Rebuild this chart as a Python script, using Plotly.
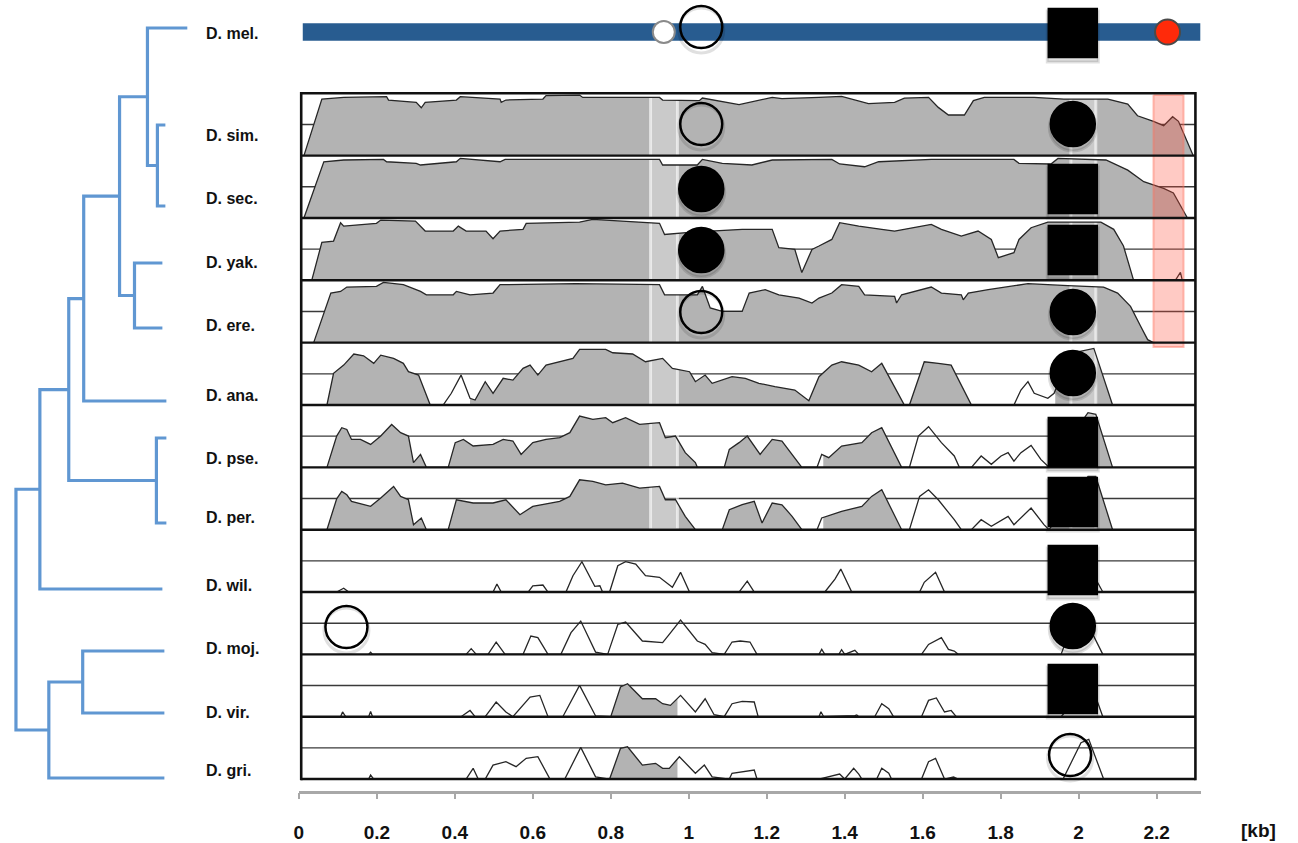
import numpy as np
import plotly.graph_objects as go

# ---------------------------------------------------------------- data
SPECIES = ["D. mel.", "D. sim.", "D. sec.", "D. yak.", "D. ere.", "D. ana.",
           "D. pse.", "D. per.", "D. wil.", "D. moj.", "D. vir.", "D. gri."]

# % identity to D. mel. along the region: (position [kb], % identity)
SIM = [(0.013, 50), (0.059, 95.4), (0.115, 96.7), (0.225, 97.3), (0.230, 94.6), (0.301, 92.7),
       (0.314, 88.4), (0.324, 92.7), (0.404, 94.6), (0.414, 97.3), (0.516, 95.4), (0.519, 92.7),
       (0.531, 94.6), (0.626, 95.4), (0.634, 98.1), (0.720, 98.6), (0.728, 96.7), (0.925, 96.7),
       (0.933, 94.6), (1.027, 94.1), (1.035, 96.2), (1.129, 90.9), (1.214, 96.7), (1.239, 95.7),
       (1.334, 96.7), (1.392, 97.5), (1.461, 91.7), (1.528, 92.7), (1.553, 96.2), (1.615, 96.7),
       (1.640, 88.7), (1.666, 82.6), (1.707, 82.6), (1.730, 94.1), (1.758, 96.7), (1.886, 96.7),
       (1.962, 95.4), (2.075, 95.4), (2.126, 91.4), (2.151, 82.0), (2.192, 77.5), (2.218, 74.0),
       (2.241, 81.2), (2.256, 77.5), (2.294, 50)]
SEC = [(0.013, 50), (0.064, 95.1), (0.115, 96.5), (0.217, 97.0), (0.225, 95.1), (0.301, 93.8),
       (0.312, 92.5), (0.404, 95.1), (0.414, 97.8), (0.516, 95.1), (0.529, 97.0), (0.925, 97.0),
       (0.933, 92.5), (1.022, 92.5), (1.035, 97.0), (1.086, 93.8), (1.162, 92.5), (1.214, 96.5),
       (1.367, 97.0), (1.387, 93.3), (1.451, 91.1), (1.487, 95.1), (1.622, 97.0), (1.834, 97.0),
       (1.847, 93.8), (1.929, 93.3), (1.947, 97.8), (2.070, 96.5), (2.126, 88.4), (2.167, 79.1),
       (2.218, 73.8), (2.243, 70.0), (2.279, 50)]
YAK = [(0.033, 50), (0.059, 80.4), (0.089, 81.5), (0.107, 96.2), (0.115, 93.5), (0.199, 95.7),
       (0.210, 98.3), (0.299, 97.5), (0.324, 89.5), (0.396, 89.5), (0.409, 93.5), (0.429, 89.5),
       (0.480, 89.5), (0.498, 83.4), (0.516, 89.5), (0.575, 90.9), (0.583, 95.7), (0.720, 96.7),
       (0.754, 98.9), (0.925, 95.7), (0.938, 86.8), (1.009, 88.7), (1.137, 90.9), (1.214, 90.9),
       (1.231, 76.2), (1.272, 74.8), (1.290, 56.2), (1.316, 74.8), (1.334, 77.5), (1.367, 82.8),
       (1.387, 96.2), (1.436, 93.5), (1.495, 90.9), (1.528, 89.5), (1.622, 94.9), (1.648, 90.9),
       (1.699, 85.5), (1.742, 89.5), (1.776, 82.8), (1.794, 68.2), (1.834, 72.2), (1.847, 82.8),
       (1.878, 92.2), (1.921, 96.7), (2.057, 96.7), (2.090, 90.9), (2.115, 77.5), (2.141, 50),
       (2.248, 50), (2.261, 56.4), (2.266, 50)]
ERE = [(0.038, 50), (0.082, 89.8), (0.107, 91.1), (0.123, 94.6), (0.199, 95.1), (0.217, 98.3),
       (0.268, 96.5), (0.312, 91.1), (0.327, 88.4), (0.396, 88.4), (0.404, 91.1), (0.439, 88.4),
       (0.498, 89.8), (0.516, 96.5), (0.710, 97.3), (0.925, 96.5), (0.938, 88.4), (1.022, 88.4),
       (1.035, 95.1), (1.055, 77.8), (1.086, 75.1), (1.137, 75.1), (1.155, 89.8), (1.196, 92.5),
       (1.231, 88.4), (1.283, 85.8), (1.316, 81.8), (1.334, 85.8), (1.367, 89.8), (1.392, 96.5),
       (1.436, 95.1), (1.451, 88.4), (1.528, 87.1), (1.533, 81.8), (1.546, 88.4), (1.622, 94.6),
       (1.648, 89.8), (1.699, 88.4), (1.704, 84.4), (1.717, 89.8), (1.768, 92.5), (1.819, 95.1),
       (1.870, 97.3), (1.972, 95.7), (2.064, 94.6), (2.100, 89.8), (2.133, 79.1), (2.159, 63.1),
       (2.177, 52.4), (2.192, 50)]
ANA = [(0.072, 50), (0.089, 75.4), (0.115, 82.0), (0.141, 90.9), (0.166, 89.5), (0.192, 83.4),
       (0.210, 90.0), (0.243, 87.4), (0.268, 83.4), (0.281, 76.7), (0.307, 74.0), (0.337, 50),
       (0.370, 50), (0.391, 59.4), (0.416, 74.0), (0.439, 55.4), (0.452, 54.0), (0.478, 68.7),
       (0.498, 59.4), (0.524, 71.4), (0.549, 70.0), (0.575, 79.4), (0.593, 82.0), (0.613, 74.0),
       (0.634, 82.0), (0.669, 84.7), (0.703, 87.4), (0.720, 94.6), (0.787, 94.6), (0.805, 91.9),
       (0.856, 90.9), (0.889, 84.7), (0.933, 87.4), (0.958, 79.4), (1.002, 76.7), (1.017, 68.7),
       (1.042, 74.0), (1.060, 67.4), (1.111, 72.7), (1.145, 71.4), (1.180, 67.4), (1.221, 64.7),
       (1.272, 62.0), (1.308, 53.4), (1.334, 72.7), (1.367, 82.0), (1.392, 84.7), (1.436, 82.0),
       (1.469, 76.7), (1.495, 83.4), (1.553, 50), (1.566, 50), (1.604, 84.7), (1.640, 83.4),
       (1.673, 82.0), (1.725, 50), (1.834, 50), (1.852, 62.0), (1.870, 68.7), (1.886, 59.4),
       (1.921, 55.4), (1.937, 59.4), (1.980, 91.4), (2.039, 95.4), (2.087, 50)]
PSE = [(0.072, 50), (0.097, 75.1), (0.110, 81.8), (0.123, 80.4), (0.135, 72.4), (0.158, 72.4),
       (0.184, 68.4), (0.210, 75.1), (0.238, 84.4), (0.261, 77.8), (0.281, 75.1), (0.294, 53.8),
       (0.312, 60.4), (0.327, 50), (0.383, 50), (0.401, 69.8), (0.422, 72.4), (0.447, 67.1),
       (0.498, 68.4), (0.524, 72.4), (0.549, 71.1), (0.570, 60.4), (0.600, 69.8), (0.634, 72.4),
       (0.669, 73.8), (0.695, 77.8), (0.720, 91.1), (0.754, 88.4), (0.787, 89.8), (0.805, 85.8),
       (0.838, 89.8), (0.874, 84.4), (0.925, 85.8), (0.940, 73.8), (0.966, 75.1), (0.991, 61.8),
       (1.017, 53.8), (1.022, 50), (1.091, 50), (1.104, 64.4), (1.129, 69.8), (1.150, 75.1),
       (1.183, 60.4), (1.214, 72.4), (1.239, 71.1), (1.265, 60.4), (1.290, 50), (1.329, 50),
       (1.341, 60.4), (1.359, 57.8), (1.392, 67.1), (1.444, 69.8), (1.469, 77.8), (1.495, 81.8),
       (1.546, 50), (1.566, 50), (1.589, 75.1), (1.615, 82.6), (1.630, 76.4), (1.648, 69.8),
       (1.681, 59.1), (1.694, 50), (1.725, 50), (1.750, 59.1), (1.776, 52.4), (1.801, 59.1),
       (1.819, 61.8), (1.834, 55.0), (1.852, 61.8), (1.878, 67.6), (1.903, 56.4), (1.924, 50),
       (2.024, 93.8), (2.044, 92.5), (2.087, 50)]
PER = [(0.072, 50), (0.097, 74.8), (0.110, 80.7), (0.123, 78.0), (0.135, 72.7), (0.184, 68.7),
       (0.210, 75.4), (0.243, 84.7), (0.261, 76.7), (0.281, 74.0), (0.294, 54.0), (0.314, 59.4),
       (0.327, 50), (0.383, 50), (0.404, 74.0), (0.447, 71.4), (0.498, 71.4), (0.531, 74.0),
       (0.567, 62.0), (0.600, 68.7), (0.669, 72.7), (0.695, 76.7), (0.720, 90.0), (0.754, 88.7),
       (0.787, 86.0), (0.830, 87.4), (0.874, 83.4), (0.925, 84.7), (0.940, 74.0), (0.966, 74.0),
       (0.991, 60.7), (1.017, 50), (1.086, 50), (1.104, 66.0), (1.137, 70.0), (1.168, 72.7),
       (1.188, 55.4), (1.214, 71.4), (1.239, 70.0), (1.265, 60.7), (1.290, 50), (1.329, 50),
       (1.341, 59.4), (1.392, 64.7), (1.444, 68.7), (1.469, 76.7), (1.495, 82.0), (1.546, 50),
       (1.566, 50), (1.592, 76.7), (1.615, 82.0), (1.640, 74.0), (1.681, 58.0), (1.699, 50),
       (1.725, 50), (1.750, 58.0), (1.776, 52.7), (1.819, 60.7), (1.834, 54.0), (1.878, 67.4),
       (1.911, 54.0), (1.924, 50), (2.024, 92.7), (2.044, 92.7), (2.087, 50)]
WIL = [(0.097, 50), (0.115, 53.0), (0.128, 50), (0.498, 50), (0.508, 56.4), (0.519, 50),
       (0.588, 50), (0.600, 55.0), (0.626, 55.6), (0.639, 50), (0.685, 50), (0.703, 63.1),
       (0.726, 74.3), (0.746, 63.1), (0.759, 54.6), (0.772, 55.0), (0.779, 50), (0.797, 50),
       (0.818, 71.1), (0.838, 74.3), (0.864, 72.4), (0.889, 63.1), (0.925, 61.8), (0.958, 53.8),
       (0.979, 65.8), (1.002, 50), (1.129, 50), (1.150, 58.8), (1.168, 50), (1.349, 50),
       (1.375, 60.4), (1.390, 68.4), (1.410, 55.0), (1.418, 50), (1.592, 50), (1.604, 57.8),
       (1.633, 65.8), (1.656, 50), (1.962, 50), (2.011, 79.1), (2.062, 50)]
MOJ = [(0.179, 50), (0.184, 51.8), (0.189, 50), (0.429, 50), (0.442, 54.6), (0.455, 50),
       (0.485, 50), (0.506, 59.9), (0.529, 50), (0.575, 50), (0.595, 64.7), (0.613, 63.4),
       (0.639, 50), (0.672, 50), (0.698, 67.4), (0.723, 76.7), (0.761, 51.8), (0.792, 50),
       (0.818, 74.0), (0.838, 75.9), (0.881, 60.7), (0.933, 59.4), (0.950, 66.0), (0.979, 77.5),
       (1.022, 60.7), (1.042, 58.0), (1.060, 51.4), (1.091, 50), (1.111, 59.9), (1.132, 60.7),
       (1.157, 59.9), (1.175, 50), (1.334, 50), (1.341, 54.0), (1.349, 50), (1.385, 50),
       (1.392, 53.8), (1.400, 50), (1.426, 53.2), (1.436, 50), (1.597, 50), (1.615, 58.0),
       (1.648, 63.4), (1.666, 54.0), (1.681, 52.6), (1.691, 50), (1.955, 50), (1.972, 64.7),
       (2.011, 82.0), (2.062, 50)]
VIR = [(0.107, 50), (0.112, 53.8), (0.120, 50), (0.179, 50), (0.184, 54.2), (0.189, 50),
       (0.416, 50), (0.439, 55.0), (0.452, 50), (0.478, 50), (0.506, 61.8), (0.531, 53.8),
       (0.549, 50), (0.567, 56.4), (0.593, 65.8), (0.618, 67.1), (0.639, 50), (0.677, 50),
       (0.720, 75.1), (0.761, 50.6), (0.800, 50), (0.825, 73.8), (0.843, 76.4), (0.881, 64.4),
       (0.915, 64.4), (0.933, 60.4), (0.953, 59.1), (0.979, 67.1), (1.017, 53.8), (1.042, 64.4),
       (1.065, 51.6), (1.091, 50), (1.111, 60.4), (1.137, 62.3), (1.168, 61.8), (1.178, 50),
       (1.334, 50), (1.339, 54.0), (1.346, 50), (1.426, 50.8), (1.431, 51.4), (1.436, 50),
       (1.477, 50), (1.495, 60.4), (1.513, 56.4), (1.525, 50), (1.597, 50), (1.615, 63.1),
       (1.635, 65.0), (1.656, 53.8), (1.673, 55.0), (1.686, 50), (1.955, 50), (2.031, 77.0),
       (2.062, 50)]
GRI = [(0.179, 50), (0.184, 53.2), (0.192, 50), (0.429, 50), (0.447, 58.6), (0.460, 50),
       (0.478, 50), (0.498, 61.2), (0.531, 63.9), (0.557, 59.9), (0.583, 66.6), (0.613, 67.9),
       (0.644, 50), (0.682, 50), (0.723, 75.4), (0.761, 51.8), (0.797, 50), (0.825, 74.6),
       (0.843, 75.9), (0.881, 61.2), (0.915, 62.6), (0.933, 58.6), (0.950, 58.6), (0.976, 67.9),
       (1.017, 54.6), (1.040, 61.2), (1.060, 51.8), (1.104, 50), (1.111, 54.6), (1.137, 55.8),
       (1.168, 57.2), (1.175, 50), (1.334, 50), (1.387, 54.0), (1.400, 50), (1.423, 58.6),
       (1.436, 54.0), (1.444, 50), (1.482, 50), (1.495, 58.6), (1.513, 54.6), (1.520, 50),
       (1.597, 50), (1.615, 63.9), (1.633, 66.6), (1.656, 50), (1.679, 51.6), (1.691, 50),
       (1.960, 50), (1.980, 62.6), (2.006, 79.1), (2.026, 81.8), (2.064, 50)]

# conserved stretches (kb) that are shaded under each curve
SIM_CONS = [(0.013, 2.294)]
SEC_CONS = [(0.013, 2.279)]
YAK_CONS = [(0.033, 2.141)]
ERE_CONS = [(0.038, 2.192)]
ANA_CONS = [(0.072, 0.337), (0.439, 1.725), (1.940, 2.087)]
PSE_CONS = [(0.072, 0.327), (0.383, 1.022), (1.091, 1.290), (1.345, 1.546), (1.930, 2.087)]
PER_CONS = [(0.072, 0.327), (0.383, 1.017), (1.086, 1.290), (1.345, 1.546), (1.930, 2.087)]
WIL_CONS = []
MOJ_CONS = []
VIR_CONS = [(0.800, 0.971)]
GRI_CONS = [(0.797, 0.971)]

TRACKS = [SIM, SEC, YAK, ERE, ANA, PSE, PER, WIL, MOJ, VIR, GRI]
CONSERVED = [SIM_CONS, SEC_CONS, YAK_CONS, ERE_CONS, ANA_CONS, PSE_CONS, PER_CONS,
             WIL_CONS, MOJ_CONS, VIR_CONS, GRI_CONS]

# D. mel. reference gene and highlighted windows (kb)
MEL_GENE = (0.010, 2.312)
WHITE_WINDOWS = [(0.902, 0.971), (1.980, 2.044)]
RED_WINDOW = (2.192, 2.269)

# site marks: position (kb), row (0 = D. mel., 1 = D. sim., ...), kind
MARK_KB = [1.032, 1.985, 1.032, 1.985, 1.032, 1.985, 1.032, 1.985, 1.032, 1.985,
           1.985, 1.985, 1.985, 1.985, 0.122, 1.985, 1.985, 1.978]
MARK_ROW = [0, 0, 1, 1, 2, 2, 3, 3, 4, 4, 5, 6, 7, 8, 9, 9, 10, 11]
MARK_KIND = ["open", "square", "open", "dot", "dot", "square", "dot", "square", "open", "dot",
             "dot", "square", "square", "square", "open", "dot", "square", "open"]
MEL_SITES_KB = [0.936, 2.228]
MEL_SITES_COLOR = ["#ffffff", "#ff2a0a"]

TICKS = [0, 0.2, 0.4, 0.6, 0.8, 1.0, 1.2, 1.4, 1.6, 1.8, 2.0, 2.2]
TICK_LABELS = ["0", "0.2", "0.4", "0.6", "0.8", "1", "1.2", "1.4", "1.6", "1.8", "2", "2.2"]

# phylogeny: internal node = (depth, child, child); leaves by name
LEAF_TIP = {"D. mel.": 183, "D. sim.": 161, "D. sec.": 161, "D. yak.": 158, "D. ere.": 158,
            "D. ana.": 162, "D. pse.": 162, "D. per.": 162, "D. wil.": 158, "D. moj.": 160,
            "D. vir.": 160, "D. gri.": 160}
SIM_SEC = (153, "D. sim.", "D. sec.")
MEL_GROUP = (143, "D. mel.", SIM_SEC)
YAK_ERE = (130, "D. yak.", "D. ere.")
MEL_SUBGROUP = (115, MEL_GROUP, YAK_ERE)
ANA_GROUP = (79, MEL_SUBGROUP, "D. ana.")
OBSCURA = (152, "D. pse.", "D. per.")
SOPHOPHORA = (64, ANA_GROUP, OBSCURA)
WIL_GROUP = (35, SOPHOPHORA, "D. wil.")
MOJ_VIR = (78, "D. moj.", "D. vir.")
DROSOPHILA = (44, MOJ_VIR, "D. gri.")
ROOT = (11, WIL_GROUP, DROSOPHILA)

# ---------------------------------------------------------------- layout geometry
W, H = 1298, 843
TOP_PX, ROW_PX = 93.3, 62.34            # first track top and track height (px)
X0_PX, KB_PX = 295.0, 391.4             # pixel of 0 kb, pixels per kb
X_END_KB = (1201 - X0_PX) / KB_PX
FRAME = (0.006, 2.2995)
N = len(TRACKS)


def u_of_px(py):
    return (py - TOP_PX) / ROW_PX


MEL_U = u_of_px(32)
LEAF_U = {"D. mel.": u_of_px(28), "D. sim.": u_of_px(125), "D. sec.": u_of_px(206),
          "D. yak.": u_of_px(263), "D. ere.": u_of_px(328), "D. ana.": u_of_px(401),
          "D. pse.": u_of_px(438), "D. per.": u_of_px(523), "D. wil.": u_of_px(589),
          "D. moj.": u_of_px(651), "D. vir.": u_of_px(713), "D. gri.": u_of_px(778)}
LABEL_PX = [33, 135, 198, 262, 325, 395, 458, 517, 585, 648, 712, 770]
MARK_PX = {(0, 1.032): 27, (0, 1.985): 33}
ROW_MARK_PX = [None, 124, 189, 250, 312, 373, 442, 502, 570, 626, 689, 755]
FONT = "Liberation Sans"


def track_u(i, pct):
    p = np.clip(np.asarray(pct, float), 50, 100)
    return i + 1 - (p - 50) / 50


fig = go.Figure()

# midlines (75 %) sit under everything
mx, my = [], []
for i in range(N):
    mx += [FRAME[0], FRAME[1], None]
    my += [i + 0.5, i + 0.5, None]
fig.add_trace(go.Scatter(x=mx, y=my, mode="lines", line=dict(color="#3a3a3a", width=1.4),
                         hoverinfo="skip"))

# shaded conserved stretches
for i, (pts, cons) in enumerate(zip(TRACKS, CONSERVED)):
    kb = np.array([p[0] for p in pts])
    pc = np.array([p[1] for p in pts])
    for a, b in cons:
        inside = (kb > a) & (kb < b)
        xs = np.concatenate([[a, a], kb[inside], [b, b]])
        ys = np.concatenate([[50, np.interp(a, kb, pc)], pc[inside], [np.interp(b, kb, pc), 50]])
        fig.add_trace(go.Scatter(x=xs, y=track_u(i, ys), mode="lines", fill="toself",
                                 fillcolor="#b3b3b3", line=dict(width=0), hoverinfo="skip"))

# light highlight windows
for a, b in WHITE_WINDOWS:
    fig.add_trace(go.Scatter(x=[a, b, b, a, a], y=[0, 0, 7, 7, 0], mode="lines", fill="toself",
                             fillcolor="rgba(255,255,255,0.30)",
                             line=dict(color="rgba(255,255,255,0.6)", width=3), hoverinfo="skip"))

# identity curves
for i, pts in enumerate(TRACKS):
    fig.add_trace(go.Scatter(x=[p[0] for p in pts], y=track_u(i, [p[1] for p in pts]),
                             mode="lines", line=dict(color="#262626", width=1.3),
                             hoverinfo="skip"))

# red window over the first four tracks
a, b = RED_WINDOW
ru0, ru1 = u_of_px(95), u_of_px(347)
fig.add_trace(go.Scatter(x=[a, b, b, a, a], y=[ru0, ru0, ru1, ru1, ru0], mode="lines",
                         fill="toself", fillcolor="rgba(255,80,60,0.30)",
                         line=dict(color="rgba(255,110,90,0.45)", width=2), hoverinfo="skip"))

# track frame
fx, fy = [], []
for i in range(N + 1):
    fx += [FRAME[0], FRAME[1], None]
    fy += [i, i, None]
fig.add_trace(go.Scatter(x=fx, y=fy, mode="lines", line=dict(color="#111111", width=2.4),
                         hoverinfo="skip"))
fig.add_trace(go.Scatter(x=[FRAME[0], FRAME[0], None, FRAME[1], FRAME[1]],
                         y=[-0.02, N + 0.02, None, -0.02, N + 0.02], mode="lines",
                         line=dict(color="#111111", width=2.6), hoverinfo="skip"))

# D. mel. gene bar
half = 8.7 / ROW_PX
g0, g1 = MEL_GENE
fig.add_trace(go.Scatter(x=[g0, g1, g1, g0, g0],
                         y=[MEL_U - half, MEL_U - half, MEL_U + half, MEL_U + half, MEL_U - half],
                         mode="lines", fill="toself", fillcolor="#285c90",
                         line=dict(width=0), hoverinfo="skip"))
fig.add_trace(go.Scatter(x=MEL_SITES_KB, y=[MEL_U] * len(MEL_SITES_KB), mode="markers",
                         marker=dict(size=[22, 25], color=MEL_SITES_COLOR, opacity=1,
                                     line=dict(color=["#8a8a8a", "#4a4a4a"], width=2)),
                         hoverinfo="skip"))

# phylogeny
tx, ty = [], []


def draw(node):
    if isinstance(node, str):
        return LEAF_TIP[node], LEAF_U[node]
    depth, c1, c2 = node
    x1, y1 = draw(c1)
    x2, y2 = draw(c2)
    tx.extend([x1, depth, depth, x2, None])
    ty.extend([y1, y1, y2, y2, None])
    return depth, (y1 + y2) / 2


draw(ROOT)
fig.add_trace(go.Scatter(x=tx, y=ty, xaxis="x2", yaxis="y", mode="lines",
                         line=dict(color="#6097d2", width=3.2), hoverinfo="skip"))

# site marks
sym = {"open": "circle-open", "dot": "circle", "square": "square"}
size = {"open": 42, "dot": 44, "square": 48}
mk_x, mk_y, mk_s, mk_sz = [], [], [], []
for kb, row, kind in zip(MARK_KB, MARK_ROW, MARK_KIND):
    if row == 0:
        py = MARK_PX[(0, kb)]
    elif kb < 0.5:
        py = 627
    else:
        py = ROW_MARK_PX[row]
    mk_x.append(kb)
    mk_y.append(u_of_px(py))
    mk_s.append(sym[kind])
    mk_sz.append(size[kind])

# soft drop shadow, then the marks
fig.add_trace(go.Scatter(x=mk_x, y=[v + 3.5 / ROW_PX for v in mk_y], mode="markers",
                         marker=dict(symbol=mk_s, size=[s + 3 for s in mk_sz], opacity=1,
                                     color="rgba(0,0,0,0.12)",
                                     line=dict(color="rgba(0,0,0,0.12)", width=3)),
                         hoverinfo="skip"))
fig.add_trace(go.Scatter(x=mk_x, y=mk_y, mode="markers",
                         marker=dict(symbol=mk_s, size=mk_sz, color="#000000", opacity=1,
                                     line=dict(color="#000000", width=2.5)),
                         hoverinfo="skip"))

# species names
for name, py in zip(SPECIES, LABEL_PX):
    fig.add_annotation(x=200 / W, xref="paper", xanchor="left", y=u_of_px(py), yref="y",
                       text=name, showarrow=False,
                       font=dict(family=FONT, size=16, color="#111111", weight="bold"))
fig.add_annotation(x=1258 / W, xref="paper", xanchor="center", y=1 - 830 / H, yref="paper",
                   yanchor="middle", text="[kb]", showarrow=False,
                   font=dict(family=FONT, size=19, color="#111111", weight="bold"))

fig.update_layout(
    width=W, height=H, margin=dict(l=0, r=0, t=0, b=0),
    paper_bgcolor="white", plot_bgcolor="rgba(0,0,0,0)", showlegend=False,
    xaxis=dict(domain=[X0_PX / W, 1201 / W], range=[0, X_END_KB], anchor="free",
               position=1 - 791.7 / H, showline=True, linecolor="#a8a8a8", linewidth=2.5,
               ticks="outside", ticklen=6, tickwidth=2, tickcolor="#a8a8a8",
               tickvals=TICKS, ticktext=TICK_LABELS, ticklabelstandoff=17,
               tickfont=dict(family=FONT, size=19, color="#111111", weight="bold"),
               showgrid=False, zeroline=False),
    xaxis2=dict(domain=[0, 200 / W], range=[0, 200], visible=False, anchor="y"),
    yaxis=dict(domain=[0, 1], range=[u_of_px(H), u_of_px(0)], visible=False),
)

fig.write_html("out.html")
